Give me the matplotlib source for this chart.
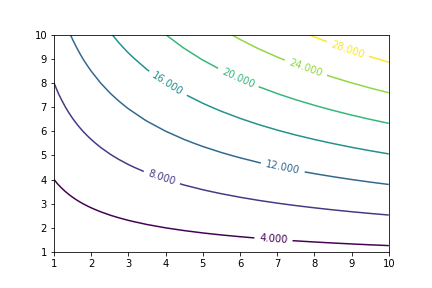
import numpy as np
import matplotlib
matplotlib.use("Agg")
import matplotlib.pyplot as plt

# Grid of x positions and the column factor (z / y at each x)
x_vals = [1.0, 1.1, 1.2, 1.3, 1.4, 1.5, 1.6, 1.7, 1.8, 1.9, 2.0, 2.25, 2.5,
          2.75, 3.0, 3.5, 4.0, 4.5, 5.0, 5.5, 6.0, 6.5, 7.0, 7.5, 8.0, 8.5,
          9.0, 9.5, 10.0]
x_factor = [1.000, 1.049, 1.095, 1.140, 1.183, 1.225, 1.265, 1.304, 1.342,
            1.378, 1.414, 1.500, 1.581, 1.658, 1.732, 1.871, 2.000, 2.121,
            2.236, 2.345, 2.449, 2.550, 2.646, 2.739, 2.828, 2.915, 3.000,
            3.082, 3.162]
y_vals = [1.0, 1.25, 1.5, 1.75, 2.0, 2.25, 2.5, 2.75, 3.0, 3.25, 3.5, 3.75,
          4.0, 4.5, 5.0, 5.5, 6.0, 6.5, 7.0, 7.5, 8.0, 8.5, 9.0, 9.5, 10.0]
levels = [4, 8, 12, 16, 20, 24, 28]

Z = np.outer(np.array(y_vals), np.array(x_factor))

fig = plt.figure(figsize=(6, 4), dpi=72)
fig.subplots_adjust(left=0.125, right=0.9, bottom=0.125, top=0.88)
ax = fig.add_subplot(111)
cs = ax.contour(x_vals, y_vals, Z, levels=levels, cmap="viridis", linewidths=1.5)

label_pos = [(6.9, 1.55), (3.9, 4.08), (7.15, 4.5), (4.05, 7.95),
             (5.95, 8.2), (7.77, 8.62), (8.9, 9.4)]
ax.clabel(cs, inline=True, fontsize=10, fmt="%1.3f", manual=label_pos)

ax.set_xlim(1, 10)
ax.set_ylim(1, 10)
ax.set_xticks(range(1, 11))
ax.set_yticks(range(1, 11))

fig.savefig("out.png", dpi=72)
